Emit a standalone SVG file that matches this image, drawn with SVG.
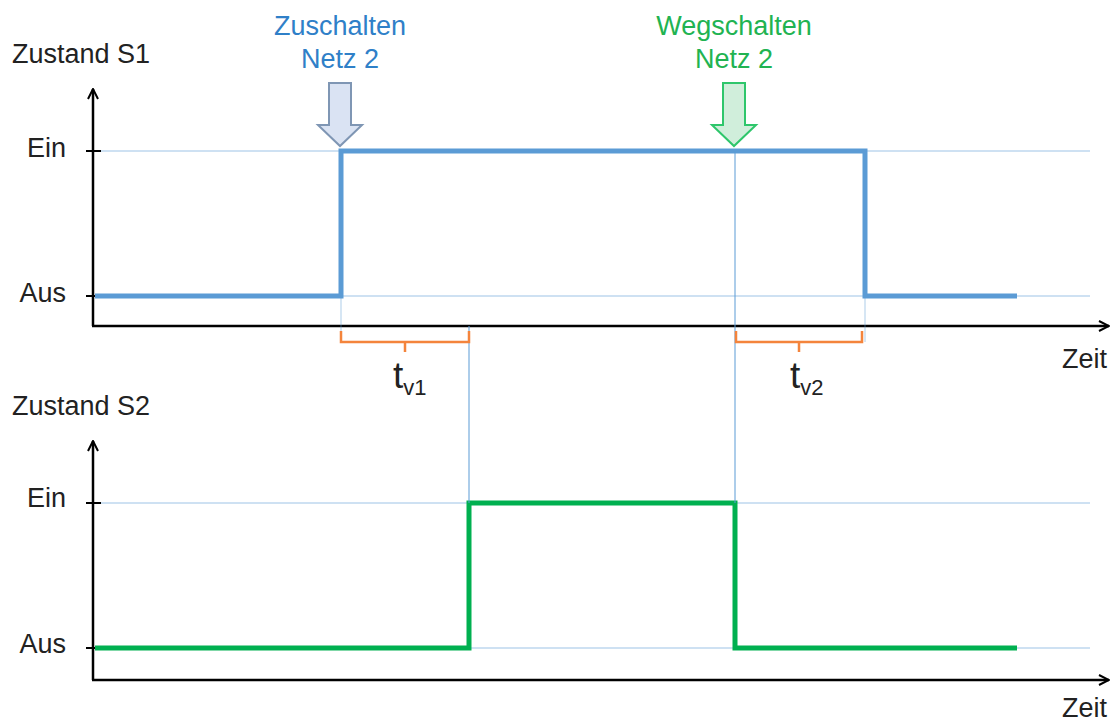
<svg xmlns="http://www.w3.org/2000/svg" width="1113" height="721" viewBox="0 0 1113 721">
  <defs>
    <marker id="ah" viewBox="0 0 12 12" refX="11" refY="6" markerWidth="12" markerHeight="12" markerUnits="userSpaceOnUse" orient="auto">
      <path d="M1,1 L11,6 L1,11" fill="none" stroke="#000" stroke-width="2"/>
    </marker>
    <style>
      text { font-family: "Liberation Sans", Arial, sans-serif; }
      .lbl { font-size: 27px; fill: #222; }
      .head { font-size: 27px; text-anchor: middle; }
      .axis { stroke: #000; stroke-width: 2.5; fill: none; }
      .tick { stroke: #000; stroke-width: 2; }
      .grid { stroke: #9dc3e6; stroke-width: 1; fill: none; }
      .vline { stroke: #5b9bd5; stroke-width: 1; fill: none; }
      .s1 { stroke: #5b9bd5; stroke-width: 5; fill: none; }
      .s2 { stroke: #00b050; stroke-width: 5; fill: none; }
      .brace { stroke: #f4843c; stroke-width: 2.5; fill: none; }
      .tv { font-size: 37px; fill: #222; }
    </style>
  </defs>

  <!-- upper chart: switch S1 -->
  <g id="chart-s1">
    <text class="lbl" x="12" y="63">Zustand S1</text>
    <text class="lbl" x="66" y="157" text-anchor="end">Ein</text>
    <text class="lbl" x="66" y="302" text-anchor="end">Aus</text>
    <text class="lbl" x="1062" y="368">Zeit</text>
    <line class="grid" x1="100" y1="151" x2="1090" y2="151"/>
    <line class="grid" x1="100" y1="296" x2="1090" y2="296"/>
    <line class="axis" x1="93" y1="326" x2="93" y2="89" marker-end="url(#ah)"/>
    <line class="axis" x1="92" y1="326" x2="1109" y2="326" marker-end="url(#ah)"/>
    <line class="tick" x1="86" y1="151" x2="101" y2="151"/>
    <line class="tick" x1="86" y1="296" x2="95" y2="296"/>
    <polyline class="s1" points="95,296 341,296 341,151 865,151 865,296 1017,296"/>
  </g>

  <!-- lower chart: switch S2 -->
  <g id="chart-s2">
    <text class="lbl" x="12" y="415">Zustand S2</text>
    <text class="lbl" x="66" y="507" text-anchor="end">Ein</text>
    <text class="lbl" x="66" y="653" text-anchor="end">Aus</text>
    <text class="lbl" x="1062" y="717">Zeit</text>
    <line class="grid" x1="100" y1="503" x2="1090" y2="503"/>
    <line class="grid" x1="100" y1="648" x2="1090" y2="648"/>
    <line class="axis" x1="93" y1="680" x2="93" y2="441" marker-end="url(#ah)"/>
    <line class="axis" x1="92" y1="680" x2="1109" y2="680" marker-end="url(#ah)"/>
    <line class="tick" x1="86" y1="503" x2="101" y2="503"/>
    <line class="tick" x1="86" y1="648" x2="95" y2="648"/>
    <polyline class="s2" points="95,648 469,648 469,503 735,503 735,648 1017,648"/>
  </g>

  <!-- timing links and delay braces -->
  <g id="connectors">
    <line class="vline" x1="341" y1="151" x2="341" y2="342" stroke-opacity="0.5"/>
    <line class="vline" x1="469" y1="326" x2="469" y2="503"/>
    <line class="vline" x1="735" y1="151" x2="735" y2="503"/>
    <line class="vline" x1="865" y1="296" x2="865" y2="342" stroke-opacity="0.5"/>
    <path class="brace" d="M341,331 L341,342 L405,342 L405,352 M405,342 L469,342 L469,331"/>
    <path class="brace" d="M736,331 L736,342 L799,342 L799,352 M799,342 L862,342 L862,331"/>
  </g>

  <g id="tv1">
    <text class="tv" x="393" y="388">t<tspan font-size="22" dy="7">v1</tspan></text>
  </g>
  <g id="tv2">
    <text class="tv" x="790" y="388">t<tspan font-size="22" dy="7">v2</tspan></text>
  </g>

  <!-- event markers -->
  <g id="zuschalten">
    <text class="head" x="340" y="35" fill="#2f80c8">Zuschalten</text>
    <text class="head" x="340" y="68" fill="#2f80c8">Netz 2</text>
    <path d="M329,83 L351,83 L351,125 L362,125 L340,146 L318,125 L329,125 Z" fill="#dae3f3" stroke="#7f96b4" stroke-width="2" stroke-linejoin="miter"/>
  </g>
  <g id="wegschalten">
    <text class="head" x="734" y="35" fill="#21b351">Wegschalten</text>
    <text class="head" x="734" y="68" fill="#21b351">Netz 2</text>
    <path d="M723,83 L745,83 L745,125 L756,125 L734,146 L712,125 L723,125 Z" fill="#d0eedb" stroke="#2ec66b" stroke-width="2" stroke-linejoin="miter"/>
  </g>
</svg>
